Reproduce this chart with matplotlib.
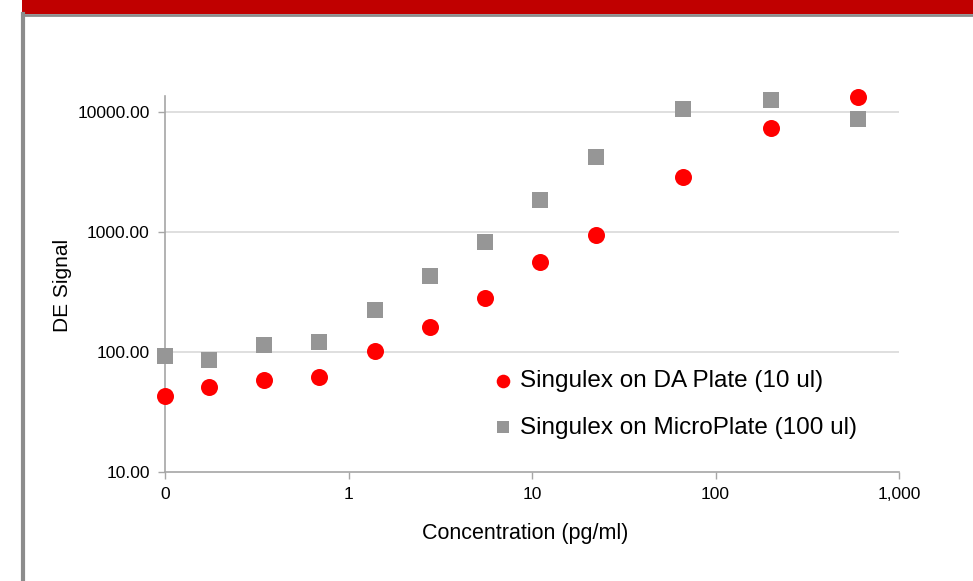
import matplotlib
matplotlib.use('Agg')
import matplotlib.pyplot as plt
from matplotlib.patches import Rectangle
from matplotlib.lines import Line2D
from matplotlib.ticker import FixedLocator, FixedFormatter, NullLocator

plt.rcParams['font.family'] = ['Liberation Sans', 'DejaVu Sans']

# 데이터 (pg/ml, DE signal)
conc = [0.1, 0.174, 0.347, 0.694, 1.39, 2.78, 5.56, 11.1, 22.2, 66.7, 200, 600]
da_plate = [43, 51, 58, 62, 101, 161, 284, 560, 945, 2870, 7330, 13300]
micro_plate = [92, 86, 114, 122, 224, 430, 830, 1850, 4230, 10600, 12600, 8750]

x_ticks = [0.1, 1, 10, 100, 1000]
x_tick_labels = ['0', '1', '10', '100', '1,000']
y_ticks = [10, 100, 1000, 10000]
y_tick_labels = ['10.00', '100.00', '1000.00', '10000.00']

W, H = 973, 581
fig = plt.figure(figsize=(W / 100, H / 100), dpi=100, facecolor='white')

# 상단 빨간 바와 왼쪽 회색 테두리
fig.patches.append(Rectangle((22 / W, 1 - 14 / H), 1, 14 / H, transform=fig.transFigure,
                             facecolor='#C00000', edgecolor='none', zorder=0))
fig.add_artist(Line2D([23 / W, 23 / W], [0, 1 - 14 / H], transform=fig.transFigure,
                      color='#8C8C8C', lw=3))
fig.add_artist(Line2D([23 / W, 1], [1 - 15 / H, 1 - 15 / H], transform=fig.transFigure,
                      color='#8C8C8C', lw=2))

ax = fig.add_axes([165 / W, 1 - 472 / H, (899 - 165) / W, (472 - 96) / H])
ax.set_xscale('log')
ax.set_yscale('log')
ax.set_xlim(0.1, 1000)
ax.set_ylim(10, 13600)

ax.scatter(conc, micro_plate, marker='s', s=125, color='#969696', linewidths=0,
           label='Singulex on MicroPlate (100 ul)', zorder=3, clip_on=False)
ax.scatter(conc, da_plate, marker='o', s=150, color='#FF0000', linewidths=0,
           label='Singulex on DA Plate (10 ul)', zorder=4, clip_on=False)

ax.xaxis.set_major_locator(FixedLocator(x_ticks))
ax.xaxis.set_major_formatter(FixedFormatter(x_tick_labels))
ax.xaxis.set_minor_locator(NullLocator())
ax.yaxis.set_major_locator(FixedLocator(y_ticks))
ax.yaxis.set_major_formatter(FixedFormatter(y_tick_labels))
ax.yaxis.set_minor_locator(NullLocator())

ax.tick_params(axis='both', which='major', labelsize=12.5, color='#A6A6A6',
               length=5, width=1, direction='out')
ax.tick_params(axis='x', pad=6)
ax.tick_params(axis='y', pad=6)

for s in ['top', 'right']:
    ax.spines[s].set_visible(False)
for s in ['left', 'bottom']:
    ax.spines[s].set_color('#A6A6A6')
    ax.spines[s].set_linewidth(1.2)

for yv in y_ticks[1:]:
    ax.axhline(yv, color='#D9D9D9', lw=1.2, zorder=1)

fig.text(422 / W + 103 / W, 1 - 533 / H, 'Concentration (pg/ml)', fontsize=15.5,
         ha='center', va='center')
fig.text(62 / W, 1 - 285 / H, 'DE Signal', fontsize=15, rotation=90,
         ha='center', va='center')

handles, labels = ax.get_legend_handles_labels()
leg = ax.legend(handles[::-1], labels[::-1], loc='upper left',
                bbox_to_anchor=(493 / W, 1 - 370 / H), bbox_transform=fig.transFigure,
                frameon=False, fontsize=17.5, markerscale=0.8, handlelength=0.8,
                handletextpad=0.32, labelspacing=1.02, borderpad=0, borderaxespad=0)

fig.savefig('out.png', dpi=100, facecolor='white')
